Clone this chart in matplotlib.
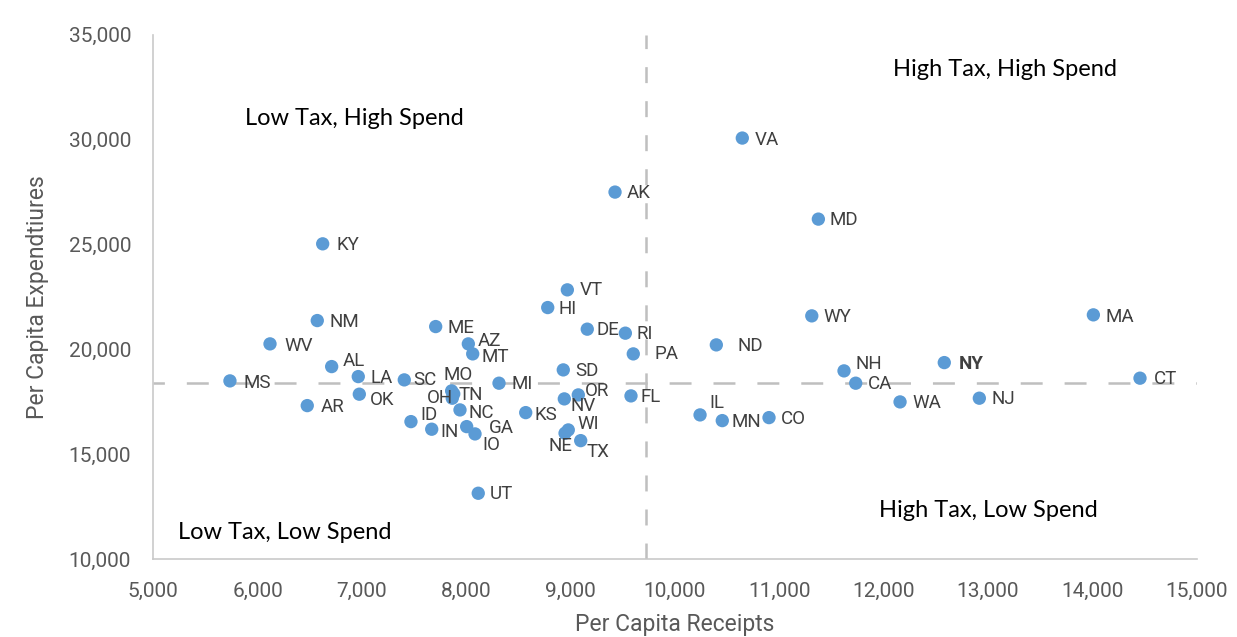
import matplotlib
matplotlib.use("Agg")
import matplotlib.pyplot as plt

# per capita figures
states = [
    "VA", "AK", "MD", "KY", "VT", "HI", "WY", "MA", "NM", "ME", "DE", "RI",
    "AZ", "WV", "ND", "MT", "PA", "NY", "AL", "SD", "NH", "LA", "CT", "SC",
    "MS", "CA", "MI", "MO", "OH", "TN", "OR", "NV", "FL", "OK", "AR", "WA",
    "NJ", "IL", "MN", "CO", "KS", "NC", "ID", "IN", "GA", "IO", "WI", "NE",
    "TX", "UT",
]
receipts = [
    10646, 9426, 11375, 6624, 8969, 8781, 11312, 14011, 6572, 7707, 9160, 9525,
    8020, 6119, 10397, 8062, 9601, 12582, 6710, 8930, 11621, 6965, 14458, 7406,
    5735, 11733, 8314, 7860, 7866, 7880, 9074, 8940, 9579, 6975, 6476, 12158,
    12918, 10241, 10454, 10902, 8570, 7940, 7470, 7669, 8004, 8084, 8978, 8947,
    9097, 8115,
]
expenditures = [
    30075, 27500, 26212, 25034, 22841, 21997, 21601, 21649, 21377, 21091, 20967, 20776,
    20266, 20266, 20218, 19789, 19789, 19374, 19184, 19026, 18979, 18707, 18631, 18550,
    18502, 18392, 18392, 18025, 17677, 17882, 17834, 17644, 17787, 17868, 17324, 17500,
    17677, 16881, 16609, 16752, 16990, 17119, 16561, 16199, 16323, 15975, 16165, 16008,
    15655, 13147,
]
avg_receipts = 9723
avg_expenditures = 18392

quadrants = ["Low Tax, High Spend", "High Tax, High Spend", "Low Tax, Low Spend", "High Tax, Low Spend"]
x_ticks = [5000, 6000, 7000, 8000, 9000, 10000, 11000, 12000, 13000, 14000, 15000]
y_ticks = [10000, 15000, 20000, 25000, 30000, 35000]

# label offsets in pixels (dx, dy), default is right of the dot
label_offsets = {
    "VA": (12, -2), "AK": (12, -1), "MD": (11, -1), "KY": (14, -1), "VT": (12, 0),
    "HI": (11, -1), "MA": (12, -2), "DE": (9, -1), "RI": (11, -1), "AZ": (9, 3),
    "WV": (14, -2), "ND": (21, -1), "MT": (9, -3), "PA": (21, 0), "NY": (14, -1),
    "AL": (11, 6), "NH": (11, 7), "CT": (14, -1), "SC": (9, 0), "MS": (14, -2),
    "MO": (-8, 16), "OH": (-25, 0), "TN": (5, -1), "OR": (7, 4), "NV": (6, -7),
    "FL": (10, -1), "OK": (11, -6), "AR": (13, -1), "IL": (9, 12), "MN": (9, -1),
    "KS": (9, -2), "NC": (9, -3), "ID": (9, 7), "IN": (9, -3), "GA": (22, -1),
    "IO": (7, -11), "WI": (9, 6), "NE": (-17, -13), "TX": (6, -11),
}

plt.rcParams["lines.scale_dashes"] = False

fig = plt.figure(figsize=(12.37, 6.37), dpi=100)
ax = fig.add_axes([0.1239, 0.122, 0.8434, 0.8235])

ax.set_xlim(5000, 15000)
ax.set_ylim(10000, 35000)

# average lines
ax.plot([avg_receipts, avg_receipts], [10000, 35000], color="#bfbfbf", lw=1.8,
        linestyle=(0, (11.5, 13.0)), zorder=1)
ax.plot([5000, 15000], [avg_expenditures, avg_expenditures], color="#bfbfbf", lw=1.8,
        linestyle=(7.6, (15.8, 15.8)), zorder=1)

ax.scatter(receipts, expenditures, s=92, color="#5b9bd5", edgecolors="none", zorder=3)

for name, x, y in zip(states, receipts, expenditures):
    dx, dy = label_offsets.get(name, (12, -1))
    ax.annotate(name, (x, y), xytext=(dx, dy), textcoords="offset pixels",
                ha="left", va="center", fontsize=13.5, family="Roboto",
                color="#404040", fontweight="bold" if name == "NY" else "normal",
                zorder=4)

quad_pos = [(0.0879, 0.8405), (0.709, 0.934), (0.0237, 0.0515), (0.6956, 0.0935)]
for text, (qx, qy) in zip(quadrants, quad_pos):
    ax.text(qx, qy, text, transform=ax.transAxes, ha="left", va="center",
            fontsize=17, family="Lato", color="black")

ax.set_xticks(x_ticks)
ax.set_yticks(y_ticks)
ax.set_xticklabels([f"{v:,}" for v in x_ticks])
ax.set_yticklabels([f"{v:,}" for v in y_ticks])
ax.tick_params(length=0, labelsize=15, labelcolor="#595959")
ax.tick_params(axis="y", pad=16)
ax.tick_params(axis="x", pad=16)
for lab in ax.get_xticklabels() + ax.get_yticklabels():
    lab.set_family("Roboto")

for side in ["top", "right"]:
    ax.spines[side].set_visible(False)
for side in ["left", "bottom"]:
    ax.spines[side].set_color("#c9c9c9")
    ax.spines[side].set_linewidth(1.2)

ax.set_xlabel("Per Capita Receipts", fontsize=16.5, color="#595959", family="Roboto", labelpad=9)
ax.set_ylabel("Per Capita Expendtiures", fontsize=16.5, color="#595959", family="Roboto", labelpad=14)

fig.savefig("out.png", dpi=100)
